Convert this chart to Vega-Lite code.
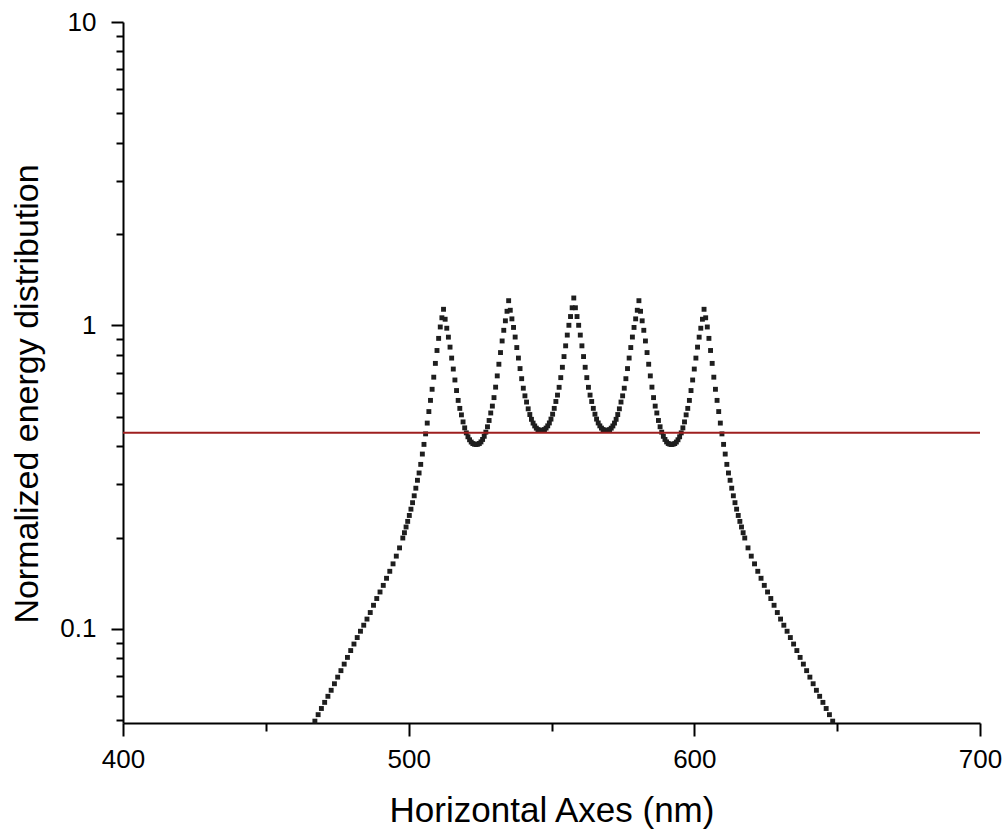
{
  "$schema": "https://vega.github.io/schema/vega-lite/v6.json",
  "width": 857,
  "height": 701,
  "autosize": "none",
  "padding": {"left": 123, "top": 22, "right": 26, "bottom": 108},
  "background": "white",
  "config": {
    "view": {"stroke": null},
    "font": "Liberation Sans",
    "axis": {"grid": false, "domainColor": "black", "domainWidth": 2, "tickColor": "black", "tickWidth": 2, "labelColor": "black", "titleColor": "black", "labelFont": "Liberation Sans", "titleFont": "Liberation Sans", "titleFontWeight": "normal", "labelFlush": false}
  },
  "datasets": {
    "curve": [
{"nm":467.17,"e":0.0497},{"nm":468.31,"e":0.0522},{"nm":469.45,"e":0.0547},{"nm":470.59,"e":0.0573},{"nm":471.73,"e":0.0600},{"nm":472.87,"e":0.0628},{"nm":474.01,"e":0.0660},{"nm":475.15,"e":0.0694},{"nm":476.29,"e":0.0729},{"nm":477.43,"e":0.0766},{"nm":478.57,"e":0.0806},{"nm":479.71,"e":0.0849},{"nm":480.85,"e":0.0892},
{"nm":481.99,"e":0.0937},{"nm":483.13,"e":0.0983},{"nm":484.27,"e":0.1029},{"nm":485.41,"e":0.1078},{"nm":486.55,"e":0.1133},{"nm":487.69,"e":0.1197},{"nm":488.83,"e":0.1260},{"nm":489.97,"e":0.1324},{"nm":491.11,"e":0.1392},{"nm":492.25,"e":0.1469},{"nm":493.39,"e":0.1549},{"nm":494.53,"e":0.1639},{"nm":495.67,"e":0.1738},{"nm":496.81,"e":0.1850},{"nm":497.95,"e":0.1994},
{"nm":498.52,"e":0.2076},{"nm":499.09,"e":0.2168},{"nm":499.66,"e":0.2262},{"nm":500.23,"e":0.2366},{"nm":500.80,"e":0.2482},
{"nm":501.37,"e":0.2607},{"nm":501.94,"e":0.2747},{"nm":502.51,"e":0.2910},{"nm":503.08,"e":0.3090},{"nm":503.65,"e":0.3266},{"nm":504.22,"e":0.3486},{"nm":504.79,"e":0.3770},{"nm":505.36,"e":0.4057},{"nm":505.93,"e":0.4394},{"nm":506.50,"e":0.4769},
{"nm":507.07,"e":0.5204},{"nm":507.64,"e":0.5665},{"nm":508.21,"e":0.6163},{"nm":508.78,"e":0.6756},{"nm":509.35,"e":0.7501},{"nm":509.92,"e":0.8272},{"nm":510.49,"e":0.9068},{"nm":511.06,"e":0.9887},{"nm":511.63,"e":1.0602},{"nm":512.20,"e":1.1308},
{"nm":512.77,"e":1.0486},{"nm":513.34,"e":0.9795},{"nm":513.91,"e":0.9154},{"nm":514.48,"e":0.8486},{"nm":515.05,"e":0.7809},{"nm":515.62,"e":0.7186},{"nm":516.19,"e":0.6613},{"nm":516.76,"e":0.6105},{"nm":517.33,"e":0.5664},{"nm":517.90,"e":0.5331},
{"nm":518.47,"e":0.5076},{"nm":519.04,"e":0.4812},{"nm":519.61,"e":0.4599},{"nm":520.18,"e":0.4428},{"nm":520.75,"e":0.4298},{"nm":521.32,"e":0.4202},{"nm":521.89,"e":0.4130},{"nm":522.46,"e":0.4083},{"nm":523.03,"e":0.4063},{"nm":523.60,"e":0.4054},
{"nm":524.17,"e":0.4063},{"nm":524.74,"e":0.4085},{"nm":525.31,"e":0.4134},{"nm":525.88,"e":0.4212},{"nm":526.45,"e":0.4314},{"nm":527.02,"e":0.4452},{"nm":527.59,"e":0.4637},{"nm":528.16,"e":0.4864},{"nm":528.73,"e":0.5149},{"nm":529.30,"e":0.5425},
{"nm":529.87,"e":0.5786},{"nm":530.44,"e":0.6264},{"nm":531.01,"e":0.6822},{"nm":531.58,"e":0.7453},{"nm":532.15,"e":0.8142},{"nm":532.72,"e":0.8892},{"nm":533.29,"e":0.9641},{"nm":533.86,"e":1.0361},{"nm":534.43,"e":1.1138},{"nm":535.00,"e":1.2070},
{"nm":535.57,"e":1.1225},{"nm":536.14,"e":1.0515},{"nm":536.71,"e":0.9854},{"nm":537.28,"e":0.9160},{"nm":537.85,"e":0.8459},{"nm":538.42,"e":0.7811},{"nm":538.99,"e":0.7211},{"nm":539.56,"e":0.6679},{"nm":540.13,"e":0.6214},{"nm":540.70,"e":0.5864},
{"nm":541.27,"e":0.5594},{"nm":541.84,"e":0.5314},{"nm":542.41,"e":0.5089},{"nm":542.98,"e":0.4907},{"nm":543.55,"e":0.4769},{"nm":544.12,"e":0.4667},{"nm":544.69,"e":0.4589},{"nm":545.26,"e":0.4540},{"nm":545.83,"e":0.4518},{"nm":546.40,"e":0.4508},
{"nm":546.97,"e":0.4518},{"nm":547.54,"e":0.4541},{"nm":548.11,"e":0.4591},{"nm":548.68,"e":0.4670},{"nm":549.25,"e":0.4774},{"nm":549.82,"e":0.4915},{"nm":550.39,"e":0.5102},{"nm":550.96,"e":0.5332},{"nm":551.53,"e":0.5618},{"nm":552.10,"e":0.5897},
{"nm":552.67,"e":0.6256},{"nm":553.24,"e":0.6733},{"nm":553.81,"e":0.7283},{"nm":554.38,"e":0.7899},{"nm":554.95,"e":0.8570},{"nm":555.52,"e":0.9298},{"nm":556.09,"e":1.0016},{"nm":556.66,"e":1.0703},{"nm":557.23,"e":1.1439},{"nm":557.80,"e":1.2320},
{"nm":558.37,"e":1.1439},{"nm":558.94,"e":1.0703},{"nm":559.51,"e":1.0016},{"nm":560.08,"e":0.9298},{"nm":560.65,"e":0.8570},{"nm":561.22,"e":0.7899},{"nm":561.79,"e":0.7283},{"nm":562.36,"e":0.6733},{"nm":562.93,"e":0.6256},{"nm":563.50,"e":0.5897},
{"nm":564.07,"e":0.5618},{"nm":564.64,"e":0.5332},{"nm":565.21,"e":0.5102},{"nm":565.78,"e":0.4915},{"nm":566.35,"e":0.4774},{"nm":566.92,"e":0.4670},{"nm":567.49,"e":0.4591},{"nm":568.06,"e":0.4541},{"nm":568.63,"e":0.4518},{"nm":569.20,"e":0.4508},
{"nm":569.77,"e":0.4518},{"nm":570.34,"e":0.4540},{"nm":570.91,"e":0.4589},{"nm":571.48,"e":0.4667},{"nm":572.05,"e":0.4769},{"nm":572.62,"e":0.4907},{"nm":573.19,"e":0.5089},{"nm":573.76,"e":0.5314},{"nm":574.33,"e":0.5594},{"nm":574.90,"e":0.5864},
{"nm":575.47,"e":0.6214},{"nm":576.04,"e":0.6679},{"nm":576.61,"e":0.7211},{"nm":577.18,"e":0.7811},{"nm":577.75,"e":0.8459},{"nm":578.32,"e":0.9160},{"nm":578.89,"e":0.9854},{"nm":579.46,"e":1.0515},{"nm":580.03,"e":1.1225},{"nm":580.60,"e":1.2070},
{"nm":581.17,"e":1.1138},{"nm":581.74,"e":1.0361},{"nm":582.31,"e":0.9641},{"nm":582.88,"e":0.8892},{"nm":583.45,"e":0.8142},{"nm":584.02,"e":0.7453},{"nm":584.59,"e":0.6822},{"nm":585.16,"e":0.6264},{"nm":585.73,"e":0.5786},{"nm":586.30,"e":0.5425},
{"nm":586.87,"e":0.5149},{"nm":587.44,"e":0.4864},{"nm":588.01,"e":0.4637},{"nm":588.58,"e":0.4452},{"nm":589.15,"e":0.4314},{"nm":589.72,"e":0.4212},{"nm":590.29,"e":0.4134},{"nm":590.86,"e":0.4085},{"nm":591.43,"e":0.4063},{"nm":592.00,"e":0.4054},
{"nm":592.57,"e":0.4063},{"nm":593.14,"e":0.4083},{"nm":593.71,"e":0.4130},{"nm":594.28,"e":0.4202},{"nm":594.85,"e":0.4298},{"nm":595.42,"e":0.4428},{"nm":595.99,"e":0.4599},{"nm":596.56,"e":0.4812},{"nm":597.13,"e":0.5076},{"nm":597.70,"e":0.5331},
{"nm":598.27,"e":0.5664},{"nm":598.84,"e":0.6105},{"nm":599.41,"e":0.6613},{"nm":599.98,"e":0.7186},{"nm":600.55,"e":0.7809},{"nm":601.12,"e":0.8486},{"nm":601.69,"e":0.9154},{"nm":602.26,"e":0.9795},{"nm":602.83,"e":1.0486},{"nm":603.40,"e":1.1308},
{"nm":603.97,"e":1.0602},{"nm":604.54,"e":0.9887},{"nm":605.11,"e":0.9068},{"nm":605.68,"e":0.8272},{"nm":606.25,"e":0.7501},{"nm":606.82,"e":0.6756},{"nm":607.39,"e":0.6163},{"nm":607.96,"e":0.5665},{"nm":608.53,"e":0.5204},{"nm":609.10,"e":0.4769},
{"nm":609.67,"e":0.4394},{"nm":610.24,"e":0.4057},{"nm":610.81,"e":0.3770},{"nm":611.38,"e":0.3486},{"nm":611.95,"e":0.3266},{"nm":612.52,"e":0.3090},{"nm":613.09,"e":0.2910},{"nm":613.66,"e":0.2747},{"nm":614.23,"e":0.2607},{"nm":614.80,"e":0.2482},
{"nm":615.37,"e":0.2366},{"nm":615.94,"e":0.2262},{"nm":616.51,"e":0.2168},{"nm":617.08,"e":0.2076},{"nm":617.65,"e":0.1994},
{"nm":618.79,"e":0.1850},{"nm":619.93,"e":0.1738},{"nm":621.07,"e":0.1639},{"nm":622.21,"e":0.1549},{"nm":623.35,"e":0.1469},{"nm":624.49,"e":0.1392},{"nm":625.63,"e":0.1324},{"nm":626.77,"e":0.1260},{"nm":627.91,"e":0.1197},{"nm":629.05,"e":0.1133},{"nm":630.19,"e":0.1078},{"nm":631.33,"e":0.1029},{"nm":632.47,"e":0.0983},{"nm":633.61,"e":0.0937},{"nm":634.75,"e":0.0892},
{"nm":635.89,"e":0.0849},{"nm":637.03,"e":0.0806},{"nm":638.17,"e":0.0766},{"nm":639.31,"e":0.0729},{"nm":640.45,"e":0.0694},{"nm":641.59,"e":0.0660},{"nm":642.73,"e":0.0628},{"nm":643.87,"e":0.0600},{"nm":645.01,"e":0.0573},{"nm":646.15,"e":0.0547},{"nm":647.29,"e":0.0522},{"nm":648.43,"e":0.0497}
    ],
    "threshold": [{"e": 0.443}],
    "anchor": [{"nm": 558, "e": 1}]
  },
  "layer": [
    {
      "data": {"name": "anchor"},
      "mark": {"type": "point", "opacity": 0},
      "encoding": {
        "x": {"field": "nm", "type": "quantitative", "scale": {"domain": [400, 700], "nice": false, "zero": false},
              "axis": {"orient": "bottom", "values": [450, 550, 650], "tickSize": 8, "labels": false, "domain": false, "title": null}},
        "y": {"field": "e", "type": "quantitative", "scale": {"type": "log", "domain": [0.049, 10], "nice": false},
              "axis": {"orient": "left", "values": [0.05, 0.06, 0.07, 0.08, 0.09, 0.2, 0.3, 0.4, 0.5, 0.6, 0.7, 0.8, 0.9, 2, 3, 4, 5, 6, 7, 8, 9], "tickSize": 7, "labels": false, "domain": false, "title": null}}
      }
    },
    {
      "data": {"name": "curve"},
      "mark": {"type": "point", "shape": "square", "filled": true, "size": 24, "color": "#1e1e1e", "opacity": 1},
      "encoding": {
        "x": {"field": "nm", "type": "quantitative", "scale": {"domain": [400, 700], "nice": false, "zero": false},
              "axis": {"orient": "bottom", "values": [400, 500, 600, 700], "tickSize": 13, "labelPadding": 10, "labelFontSize": 26, "format": "d",
                       "title": "Horizontal Axes (nm)", "titleFontSize": 35, "titleBaseline": "alphabetic", "titleY": 98}},
        "y": {"field": "e", "type": "quantitative", "scale": {"type": "log", "domain": [0.049, 10], "nice": false},
              "axis": {"orient": "left", "values": [0.1, 1, 10], "tickSize": 12, "labelPadding": 15, "labelFontSize": 26, "format": "~g",
                       "title": "Normalized energy distribution", "titleFontSize": 34, "titleAngle": -90, "titleBaseline": "alphabetic", "titleAlign": "center", "titleX": -85.5, "titleY": 371.5}}
      }
    },
    {
      "data": {"name": "threshold"},
      "mark": {"type": "rule", "color": "#9e1f1f", "strokeWidth": 2},
      "encoding": {
        "y": {"field": "e", "type": "quantitative", "scale": {"type": "log", "domain": [0.049, 10], "nice": false}, "axis": null}
      }
    }
  ],
  "resolve": {"axis": {"x": "independent", "y": "independent"}}
}
